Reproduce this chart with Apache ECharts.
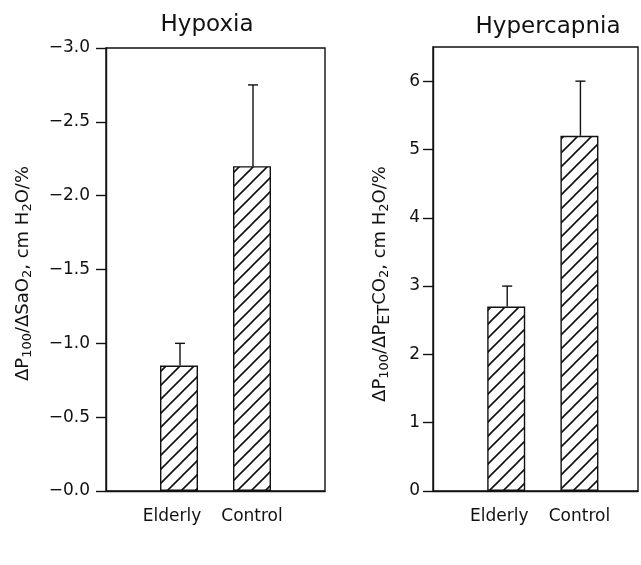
<!DOCTYPE html>
<html>
<head>
<meta charset="utf-8">
<script src="https://cdn.jsdelivr.net/npm/echarts@6/dist/echarts.min.js"></script>
<style>
html,body{margin:0;padding:0;background:#fff;}
#chart{width:641px;height:565px;}
</style>
</head>
<body>
<div id="chart"></div>
<script>
// ---- data ----
const categories = ["Elderly", "Control"];
const catPositions = [1, 2];
const hypoxiaMeans = [-0.85, -2.2];
const hypoxiaErrTops = [-1.0, -2.75];
const hypercapniaMeans = [2.7, 5.2];
const hypercapniaErrTops = [3.0, 6.0];
const hypoxiaTicks = { min: -3, max: 0, interval: 0.5 };
const hypercapniaTicks = { min: 0, max: 6.5, interval: 1 };
const hypercapniaTickValues = [0, 1, 2, 3, 4, 5, 6];
const titles = ["Hypoxia", "Hypercapnia"];

// ---- hatch pattern ----
function hatch() {
  const s = 14;
  const c = document.createElement('canvas');
  c.width = s; c.height = s;
  const ctx = c.getContext('2d');
  ctx.fillStyle = '#fff';
  ctx.fillRect(0, 0, s, s);
  ctx.strokeStyle = '#111';
  ctx.lineWidth = 1.6;
  ctx.beginPath();
  ctx.moveTo(-1, s + 1); ctx.lineTo(s + 1, -1);
  ctx.moveTo(-2, 2); ctx.lineTo(2, -2);
  ctx.moveTo(s - 2, s + 2); ctx.lineTo(s + 2, s - 2);
  ctx.stroke();
  return { image: c, repeat: 'repeat' };
}
const pattern = hatch();

const FONT = 'DejaVu Sans';
const BLACK = '#111';

function catLabel(v) {
  const i = catPositions.indexOf(Math.round(v * 100) / 100);
  if (i === 0) return '{e|' + categories[0] + '}';
  if (i === 1) return '{c|' + categories[1] + '}';
  return '';
}
const catRich = {
  e: { fontFamily: FONT, fontSize: 17, color: BLACK, padding: [0, 14, 0, 0] },
  c: { fontFamily: FONT, fontSize: 17, color: BLACK, padding: [0, 0, 0, 0] }
};

function barData(means) { return means.map((m, i) => [catPositions[i], m]); }
function errData(means, tops) { return means.map((m, i) => [catPositions[i], m, tops[i]]); }

function errRender(params, api) {
  const x = api.value(0);
  const p0 = api.coord([x, api.value(1)]);
  const p1 = api.coord([x, api.value(2)]);
  const cap = 5;
  return {
    type: 'group',
    children: [
      { type: 'line', shape: { x1: p0[0] + 1, y1: p0[1], x2: p1[0] + 1, y2: p1[1] }, style: { stroke: BLACK, lineWidth: 1.4 } },
      { type: 'line', shape: { x1: p1[0] + 1 - cap, y1: p1[1], x2: p1[0] + 1 + cap, y2: p1[1] }, style: { stroke: BLACK, lineWidth: 1.4 } }
    ]
  };
}

const yNameRich = {
  m: { fontFamily: FONT, fontSize: 18, color: BLACK, lineHeight: 26 },
  s: { fontFamily: FONT, fontSize: 13, color: BLACK, lineHeight: 26, padding: [10, 0, 0, 0] },
  et: { fontFamily: FONT, fontSize: 16, color: BLACK, lineHeight: 26, padding: [9, 0, 0, 0] },
  e1: { fontFamily: FONT, fontSize: 18, color: BLACK, lineHeight: 26, padding: [0, 8, 0, 0] },
  e2: { fontFamily: FONT, fontSize: 18, color: BLACK, lineHeight: 26, padding: [0, 30, 0, 0] }
};

const option = {
  animation: false,
  backgroundColor: '#fff',
  graphic: [
    { type: 'text', x: 207, y: 25, style: { text: titles[0], font: '23px "DejaVu Sans"', fill: BLACK, textAlign: 'center', textVerticalAlign: 'middle' } },
    { type: 'text', x: 548, y: 27, style: { text: titles[1], font: '23px "DejaVu Sans"', fill: BLACK, textAlign: 'center', textVerticalAlign: 'middle' } }
  ],
  grid: [
    { left: 106, top: 48, width: 219, height: 443, show: true, borderColor: BLACK, borderWidth: 1.4, backgroundColor: 'transparent' },
    { left: 433, top: 47, width: 208, height: 444, show: true, borderColor: BLACK, borderWidth: 1.4, backgroundColor: 'transparent' }
  ],
  xAxis: [
    { type: 'value', gridIndex: 0, min: 0, max: 3, interval: 1, splitLine: { show: false },
      axisLine: { show: true, onZero: false, lineStyle: { color: BLACK, width: 1.4 } }, axisTick: { show: false },
      axisLabel: { formatter: catLabel, rich: catRich, margin: 17 } },
    { type: 'value', gridIndex: 1, min: 0, max: 2.8, interval: 1, splitLine: { show: false },
      axisLine: { show: true, onZero: false, lineStyle: { color: BLACK, width: 1.4 } }, axisTick: { show: false },
      axisLabel: { formatter: catLabel, rich: catRich, margin: 17 } }
  ],
  yAxis: [
    { type: 'value', gridIndex: 0, inverse: true, min: hypoxiaTicks.min, max: hypoxiaTicks.max, interval: hypoxiaTicks.interval,
      splitLine: { show: false },
      axisLine: { show: true, onZero: false, lineStyle: { color: BLACK, width: 1.4 } },
      axisTick: { show: true, length: 10, lineStyle: { color: BLACK, width: 1.4 } },
      axisLabel: { margin: 16, fontFamily: FONT, fontSize: 17, color: BLACK, formatter: v => '\u2212' + Math.abs(v).toFixed(1) },
      name: '{m|\u0394P}{s|100}{m|/\u0394SaO}{s|2}{m|, cm H}{s|2}{e1|O/%}',
      nameLocation: 'middle', nameRotate: 90, nameGap: 70,
      nameTextStyle: { rich: yNameRich } },
    { type: 'value', gridIndex: 1, min: hypercapniaTicks.min, max: hypercapniaTicks.max, interval: hypercapniaTicks.interval,
      splitLine: { show: false },
      axisLine: { show: true, onZero: false, lineStyle: { color: BLACK, width: 1.4 } },
      axisTick: { show: true, length: 10, customValues: hypercapniaTickValues, lineStyle: { color: BLACK, width: 1.4 } },
      axisLabel: { margin: 13, fontFamily: FONT, fontSize: 17, color: BLACK, customValues: hypercapniaTickValues,
        formatter: v => String(v) },
      name: '{m|\u0394P}{s|100}{m|/\u0394P}{et|ET}{m|CO}{s|2}{m|, cm H}{s|2}{e2|O/%}',
      nameLocation: 'middle', nameRotate: 90, nameGap: 40,
      nameTextStyle: { rich: yNameRich } }
  ],
  series: [
    { type: 'bar', xAxisIndex: 0, yAxisIndex: 0, data: barData(hypoxiaMeans), barWidth: 38,
      itemStyle: { color: pattern, borderColor: BLACK, borderWidth: 1.4 } },
    { type: 'custom', xAxisIndex: 0, yAxisIndex: 0, data: errData(hypoxiaMeans, hypoxiaErrTops), renderItem: errRender, z: 3 },
    { type: 'bar', xAxisIndex: 1, yAxisIndex: 1, data: barData(hypercapniaMeans), barWidth: 38,
      itemStyle: { color: pattern, borderColor: BLACK, borderWidth: 1.4 } },
    { type: 'custom', xAxisIndex: 1, yAxisIndex: 1, data: errData(hypercapniaMeans, hypercapniaErrTops), renderItem: errRender, z: 3 }
  ]
};

const chart = echarts.init(document.getElementById('chart'), null, { renderer: 'canvas' });
chart.setOption(option);
</script>
</body>
</html>
